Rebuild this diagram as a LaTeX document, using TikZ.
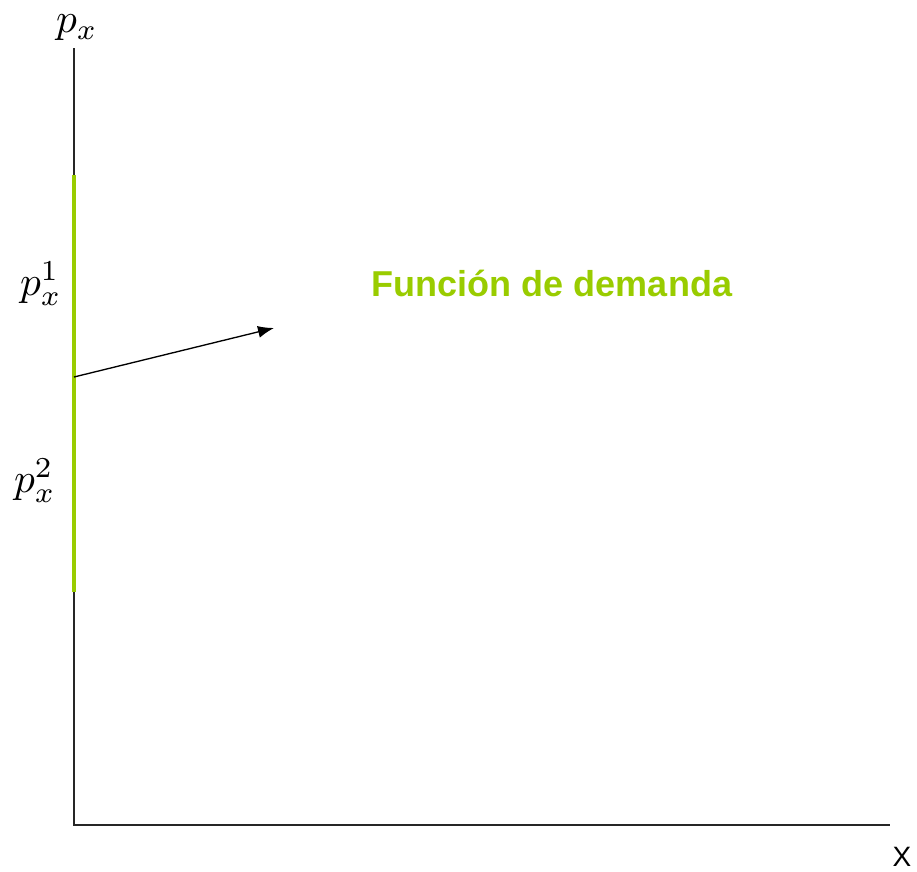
\documentclass[tikz,border=0pt]{standalone}
\usepackage{fontspec}
\setsansfont{Liberation Sans}
\usetikzlibrary{arrows.meta,positioning}
\definecolor{Dc}{HTML}{99CC00}
\tikzset{
  ax/.style={black!85, line width=1.3pt},
  dem/.style={Dc, line width=3pt},
  ptr/.style={-{Latex[length=12pt,width=9pt]}, line width=1pt},
  plab/.style={inner sep=0pt},
  dlab/.style={font=\sffamily\bfseries\fontsize{27}{32}\selectfont, text=Dc},
  xlab/.style={font=\sffamily\fontsize{21}{25}\selectfont},
}
\newcommand{\plabel}[1]{\scalebox{3.1}{$#1$}}

\begin{document}
\begin{tikzpicture}[x=0.75pt, y=-0.75pt]
  \useasboundingbox (0,0) rectangle (917,871);
  % axes
  \coordinate (O) at (74,825);
  \coordinate (ytop) at (74,48);
  \coordinate (xend) at (890,825);
  \draw[ax] (ytop) -- (O) -- (xend);
  % demand segment on the price axis
  \coordinate (dtop) at (74,175);
  \coordinate (dbot) at (74,592);
  \draw[dem] (dtop) -- (dbot);
  % pointer to the label
  \coordinate (from) at (74,377);
  \coordinate (to) at (274,328);
  \draw[ptr] (from) -- (to);
  % labels
  \node[plab] (py) at (77,28) {\plabel{p_x}};
  \node[plab] (p1) at (41,284) {\plabel{p_x^1}};
  \node[plab] (p2) at (35,481) {\plabel{p_x^2}};
  \node[dlab, anchor=base] (fd) at (552,296) {Funci\'on de demanda};
  \node[xlab, anchor=base, inner sep=1pt] (xl) at (902,866) {X};
\end{tikzpicture}
\end{document}
